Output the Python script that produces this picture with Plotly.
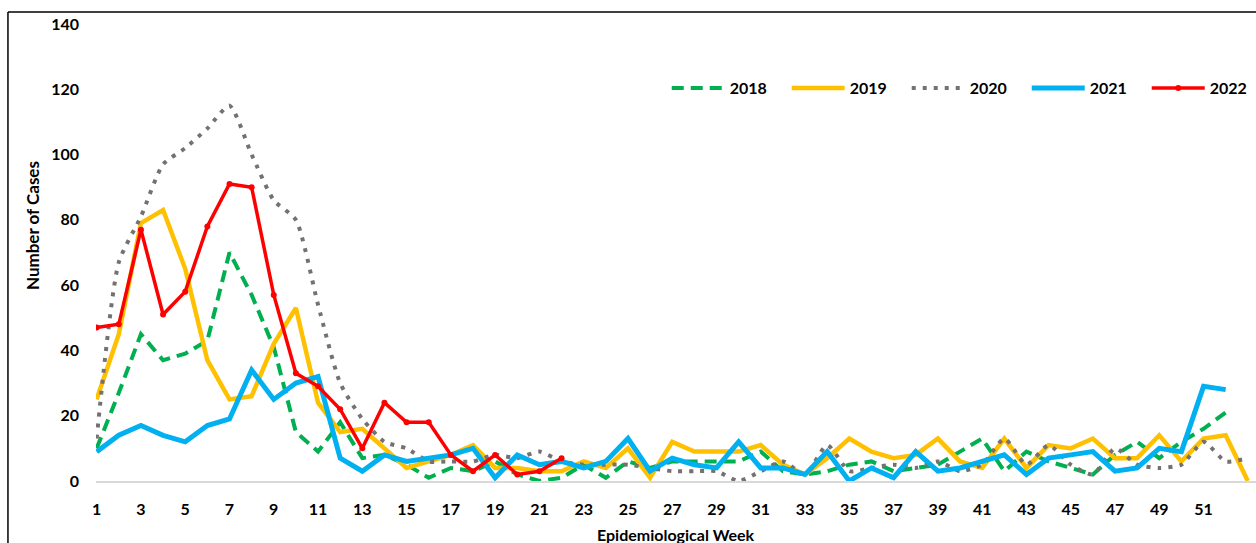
import plotly.graph_objects as go

weeks_52 = list(range(1, 53))
weeks_53 = list(range(1, 54))
tick_weeks = list(range(1, 52, 2))
y_ticks = [0, 20, 40, 60, 80, 100, 120, 140]

cases_2018 = [10, 27, 45, 37, 39, 43, 70, 57, 41, 15,
              9, 18, 7, 8, 5, 1, 4, 3, 6, 2,
              0, 1, 5, 1, 6, 4, 6, 6, 6, 6,
              9, 3, 2, 3, 5, 6, 3, 4, 5, 9,
              13, 3, 9, 6, 4, 2, 8, 12, 7, 12,
              16, 21]
cases_2019 = [25, 45, 79, 83, 65, 37, 25, 26, 42, 53,
              24, 15, 16, 10, 4, 6, 8, 11, 4, 4,
              3, 3, 6, 4, 10, 1, 12, 9, 9, 9,
              11, 5, 2, 7, 13, 9, 7, 8, 13, 6,
              4, 13, 4, 11, 10, 13, 7, 7, 14, 6,
              13, 14, 0]
cases_2020 = [13, 67, 81, 97, 102, 108, 115, 100, 86, 80,
              54, 30, 19, 12, 10, 6, 6, 6, 8, 7,
              9, 6, 5, 5, 5, 4, 3, 3, 3, 0,
              3, 6, 2, 11, 3, 4, 5, 4, 6, 3,
              5, 13, 5, 11, 5, 2, 10, 5, 4, 5,
              12, 6, 7]
cases_2021 = [9, 14, 17, 14, 12, 17, 19, 34, 25, 30,
              32, 7, 3, 8, 6, 7, 8, 10, 1, 8,
              5, 6, 4, 6, 13, 3, 7, 5, 4, 12,
              4, 4, 2, 9, 0, 4, 1, 9, 3, 4,
              6, 8, 2, 7, 8, 9, 3, 4, 10, 9,
              29, 28]
cases_2022 = [47, 48, 77, 51, 58, 78, 91, 90, 57, 33,
              29, 22, 10, 24, 18, 18, 8, 3, 8, 2,
              3, 7]

FONT = "Lato"

fig = go.Figure()
fig.add_trace(go.Scatter(x=weeks_52, y=cases_2018, name="2018", mode="lines",
                         line=dict(color="#00B050", width=4, dash="12px,7px")))
fig.add_trace(go.Scatter(x=weeks_53, y=cases_2019, name="2019", mode="lines",
                         line=dict(color="#FFC000", width=4.5)))
fig.add_trace(go.Scatter(x=weeks_53, y=cases_2020, name="2020", mode="lines",
                         line=dict(color="#767171", width=4, dash="4px,7px",
                                   shape="spline", smoothing=0.6)))
fig.add_trace(go.Scatter(x=weeks_52, y=cases_2021, name="2021", mode="lines",
                         line=dict(color="#00B0F0", width=5)))
fig.add_trace(go.Scatter(x=weeks_52[:len(cases_2022)], y=cases_2022, name="2022",
                         mode="lines+markers",
                         line=dict(color="#FF0000", width=3.5),
                         marker=dict(color="#FF0000", size=6)))

fig.update_layout(
    width=1256, height=543,
    margin=dict(l=96, r=0, t=24, b=62, autoexpand=False),
    paper_bgcolor="white", plot_bgcolor="white",
    font=dict(family=FONT, color="#000000"),
    showlegend=True,
    legend=dict(orientation="h", x=0.492, xanchor="left", y=0.86, yanchor="middle",
                font=dict(family=FONT, size=16, color="#000000", weight="bold"),
                itemwidth=53, entrywidth=52, entrywidthmode="pixels",
                bgcolor="rgba(0,0,0,0)", traceorder="normal"),
    xaxis=dict(range=[0.97, 53.37], tickmode="array", tickvals=tick_weeks,
               ticktext=[str(w) for w in tick_weeks],
               showgrid=False, zeroline=False, showline=True,
               linecolor="#D9D9D9", linewidth=1.5, ticks="",
               ticklabelstandoff=13,
               tickfont=dict(family=FONT, size=16, color="#000000", weight="bold")),
    yaxis=dict(range=[0, 140], tickmode="array", tickvals=y_ticks,
               showgrid=False, zeroline=False, showline=False, ticks="",
               ticklabelstandoff=16,
               tickfont=dict(family=FONT, size=16, color="#000000", weight="bold")),
    annotations=[
        dict(text="Epidemiological Week", xref="paper", yref="paper",
             x=0.5, y=-0.118, xanchor="center", yanchor="middle", showarrow=False,
             font=dict(family=FONT, size=16, color="#000000", weight="bold")),
        dict(text="Number of Cases", xref="paper", yref="paper", textangle=-90,
             x=-0.0552, y=0.56, xanchor="center", yanchor="middle", showarrow=False,
             font=dict(family=FONT, size=17, color="#000000", weight="bold")),
    ],
    shapes=[
        dict(type="line", xref="paper", yref="paper", x0=-0.0759, x1=1.0,
             y0=1.0263, y1=1.0263, line=dict(color="#000000", width=1.5)),
        dict(type="line", xref="paper", yref="paper", x0=-0.0759, x1=-0.0759,
             y0=1.0263, y1=-0.2, line=dict(color="#000000", width=1.5)),
    ],
)

fig.write_html("out.html",
               config={"displayModeBar": False},
               post_script="document.body.style.margin='0';"
                           "document.body.style.overflow='hidden';")
